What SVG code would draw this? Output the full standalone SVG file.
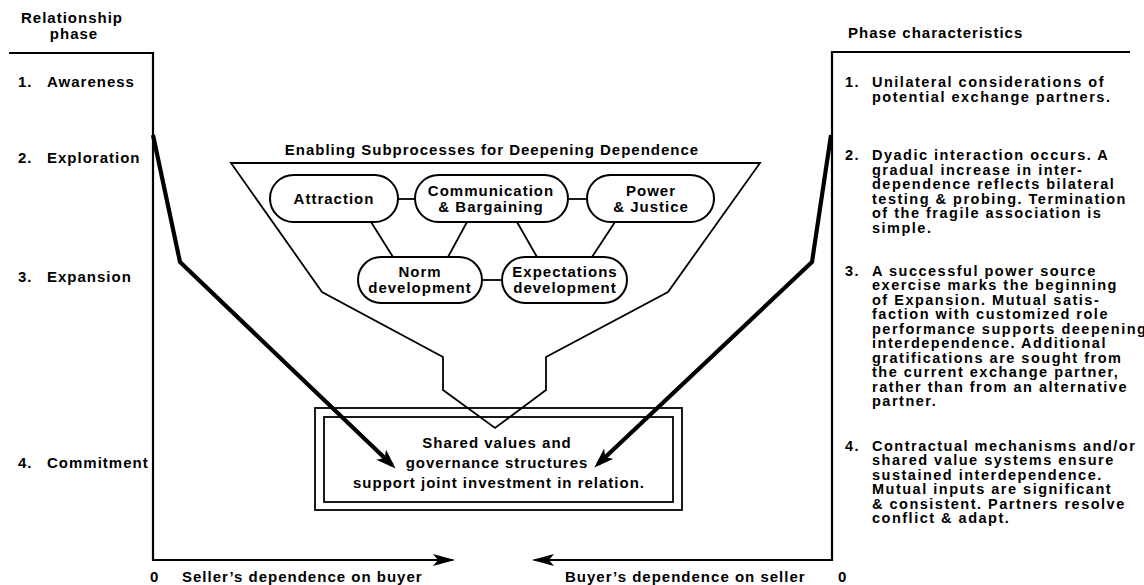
<svg xmlns="http://www.w3.org/2000/svg" width="1144" height="585" viewBox="0 0 1144 585">
<style>
text{font-family:"Liberation Sans",Arial,sans-serif;font-weight:bold;font-size:15px;fill:#000;letter-spacing:1px}
.r{font-size:14.5px;letter-spacing:1.5px}
.c{text-anchor:middle}
.ax{fill:none;stroke:#000;stroke-width:2.2}
.thin{fill:none;stroke:#000;stroke-width:1.8}
.thick{fill:none;stroke:#000;stroke-width:4.2;stroke-linejoin:miter}
.pill{fill:#fff;stroke:#000;stroke-width:2}
</style>
<defs>
<marker id="ah" markerUnits="userSpaceOnUse" markerWidth="24" markerHeight="16" refX="15" refY="7" orient="auto">
<path d="M0,0 L20,7 L0,14 L5,7 Z" fill="#000"/>
</marker>
<marker id="axh" markerUnits="userSpaceOnUse" markerWidth="26" markerHeight="14" refX="20" refY="6" orient="auto">
<path d="M0,0 L22,6 L0,12 L5,6 Z" fill="#000"/>
</marker>
</defs>
<rect width="1144" height="585" fill="#fff"/>

<g id="left-axis">
<polyline class="ax" points="9,53 153,53 153,560 453,560" marker-end="url(#axh)"/>
<text class="c" x="72" y="23">Relationship</text>
<text class="c" x="74" y="39">phase</text>
<text x="18" y="87">1.</text><text x="47" y="87">Awareness</text>
<text x="18" y="163">2.</text><text x="47" y="163">Exploration</text>
<text x="18" y="282">3.</text><text x="47" y="282">Expansion</text>
<text x="18" y="468">4.</text><text x="47" y="468">Commitment</text>
<text x="150" y="582">0</text>
<text x="182" y="582">Seller’s dependence on buyer</text>
</g>

<g id="right-axis">
<polyline class="ax" points="1130,52 832,52 832,560 534,560" marker-end="url(#axh)"/>
<text x="848" y="38">Phase characteristics</text>
<text x="565" y="582">Buyer’s dependence on seller</text>
<text x="838" y="582">0</text>
</g>

<g id="phase-characteristics">
<text class="r" x="845" y="87">1.</text>
<text class="r" y="87"><tspan x="872">Unilateral considerations of</tspan><tspan x="872" dy="15">potential exchange partners.</tspan></text>
<text class="r" x="845" y="160">2.</text>
<text class="r" y="160"><tspan x="872">Dyadic interaction occurs. A</tspan><tspan x="872" dy="14.6">gradual increase in inter-</tspan><tspan x="872" dy="14.6">dependence reflects bilateral</tspan><tspan x="872" dy="14.6">testing &amp; probing. Termination</tspan><tspan x="872" dy="14.6">of the fragile association is</tspan><tspan x="872" dy="14.6">simple.</tspan></text>
<text class="r" x="845" y="276">3.</text>
<text class="r" y="276"><tspan x="872">A successful power source</tspan><tspan x="872" dy="14.45">exercise marks the beginning</tspan><tspan x="872" dy="14.45">of Expansion. Mutual satis-</tspan><tspan x="872" dy="14.45">faction with customized role</tspan><tspan x="872" dy="14.45">performance supports deepening</tspan><tspan x="872" dy="14.45">interdependence. Additional</tspan><tspan x="872" dy="14.45">gratifications are sought from</tspan><tspan x="872" dy="14.45">the current exchange partner,</tspan><tspan x="872" dy="14.45">rather than from an alternative</tspan><tspan x="872" dy="14.45">partner.</tspan></text>
<text class="r" x="845" y="451">4.</text>
<text class="r" y="451"><tspan x="872">Contractual mechanisms and/or</tspan><tspan x="872" dy="14.4">shared value systems ensure</tspan><tspan x="872" dy="14.4">sustained interdependence.</tspan><tspan x="872" dy="14.4">Mutual inputs are significant</tspan><tspan x="872" dy="14.4">&amp; consistent. Partners resolve</tspan><tspan x="872" dy="14.4">conflict &amp; adapt.</tspan></text>
</g>

<g id="funnel">
<polygon class="thin" points="231,163 760,163 668,292 546,357 546,390 495,428 443,390 443,357 322,292"/>
<text class="c" x="492" y="155">Enabling Subprocesses for Deepening Dependence</text>
</g>

<g id="connectors">
<line class="thin" x1="398" y1="199" x2="415" y2="199"/>
<line class="thin" x1="568" y1="199" x2="587" y2="199"/>
<line class="thin" x1="482" y1="280" x2="502" y2="280"/>
<line class="thin" x1="371" y1="222" x2="393" y2="257"/>
<line class="thin" x1="467" y1="222" x2="448" y2="257"/>
<line class="thin" x1="517" y1="222" x2="537" y2="257"/>
<line class="thin" x1="615" y1="222" x2="592" y2="257"/>
<polyline class="thick" points="153,135 180,262 392,465" marker-end="url(#ah)"/>
<polyline class="thick" points="831,135 812,262 598,464" marker-end="url(#ah)"/>
</g>

<g id="attraction">
<rect class="pill" x="270" y="175" width="128" height="47" rx="23.5"/>
<text class="c" x="334" y="204">Attraction</text>
</g>
<g id="communication">
<rect class="pill" x="415" y="175" width="153" height="47" rx="23.5"/>
<text class="c" x="491" y="196">Communication</text>
<text class="c" x="491" y="212">&amp; Bargaining</text>
</g>
<g id="power">
<rect class="pill" x="587" y="175" width="127" height="47" rx="23.5"/>
<text class="c" x="651" y="196">Power</text>
<text class="c" x="651" y="212">&amp; Justice</text>
</g>
<g id="norm">
<rect class="pill" x="358" y="257" width="124" height="46" rx="23"/>
<text class="c" x="420" y="277">Norm</text>
<text class="c" x="420" y="293">development</text>
</g>
<g id="expectations">
<rect class="pill" x="502" y="257" width="125" height="46" rx="23"/>
<text class="c" x="565" y="277">Expectations</text>
<text class="c" x="565" y="293">development</text>
</g>

<g id="commitment-box">
<rect class="thin" x="315" y="408" width="367" height="102" fill="none"/>
<rect class="thin" x="324" y="417" width="349" height="85" fill="none"/>
<text class="c" x="497" y="448">Shared values and</text>
<text class="c" x="497" y="468">governance structures</text>
<text class="c" x="499" y="488">support joint investment in relation.</text>
</g>
</svg>
